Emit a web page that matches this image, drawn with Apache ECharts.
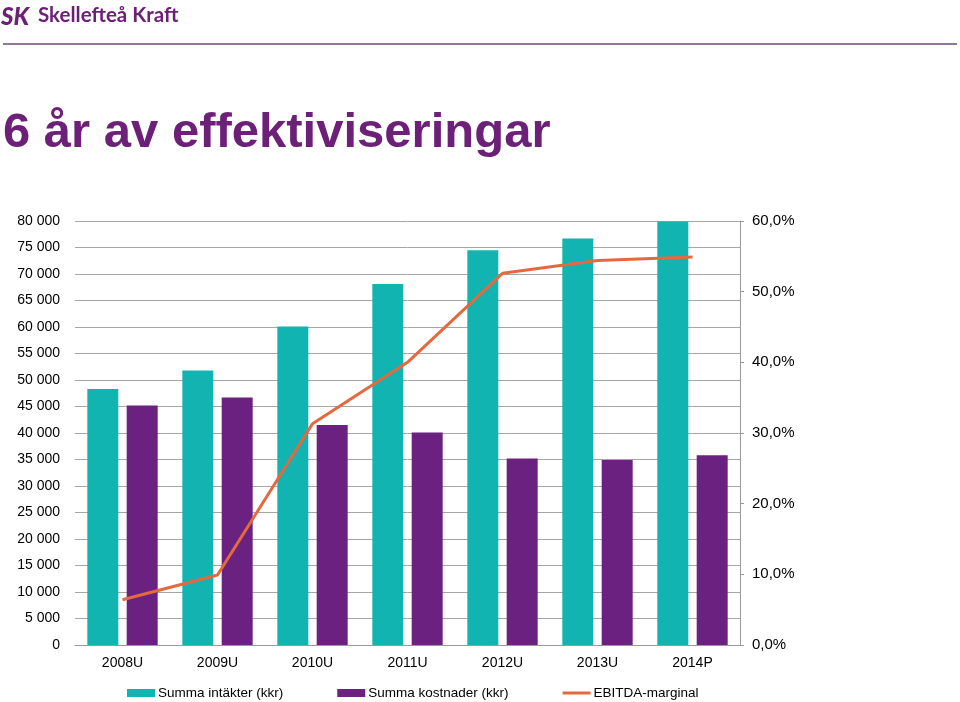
<!DOCTYPE html>
<html><head><meta charset="utf-8">
<script src="https://cdn.jsdelivr.net/npm/echarts@6/dist/echarts.min.js"></script>
<style>html,body{margin:0;padding:0;background:#fff}#c{width:960px;height:702px}</style>
</head><body><div id="c"></div>
<script>
const categories = ['2008U','2009U','2010U','2011U','2012U','2013U','2014P'];
const intakter = [48300, 51800, 60100, 68100, 74500, 76700, 79900];
const kostnader = [45200, 46700, 41500, 40100, 35200, 34900, 35800];
const ebitdaMarginal = [6.4, 9.9, 31.3, 40.0, 52.6, 54.4, 54.9];
const seriesNames = ['Summa intäkter (kkr)', 'Summa kostnader (kkr)', 'EBITDA-marginal'];

const purple = '#6d2077';
const chart = echarts.init(document.getElementById('c'));
const fmtK = v => v === 0 ? '0' : (String(Math.floor(v/1000)) + ' ' + String(v%1000).padStart(3,'0'));
chart.setOption({
  animation: false,
  textStyle: {fontFamily: 'Liberation Sans, Arial, sans-serif'},
  title: {
    text: '6 år av effektiviseringar', left: 3, top: 109, padding: 0,
    textStyle: {fontFamily: 'Liberation Sans, Arial, sans-serif', fontWeight: 'bold', fontSize: 49, color: purple}
  },
  graphic: [
    {type: 'text', left: 1, top: 5, style: {text: 'SK', fontFamily: 'Lato, sans-serif', fontWeight: 900, fontStyle: 'italic', fontSize: 24, fill: purple}},
    {type: 'text', left: 38, top: 5, style: {text: 'Skellefteå Kraft', fontFamily: 'Lato, sans-serif', fontWeight: 'bold', fontSize: 20.5, fill: purple}},
    {type: 'line', shape: {x1: 3, y1: 44, x2: 957, y2: 44}, style: {stroke: '#6a4a72', lineWidth: 1.5}}
  ],
  grid: {left: 75, right: 220, top: 221, bottom: 57, containLabel: false},
  legend: {
    left: 127, top: 686, padding: 0, itemWidth: 28, itemHeight: 8, itemGap: 54,
    textStyle: {fontSize: 13.5, color: '#000', padding: [0,0,0,-2]},
    data: [
      {name: seriesNames[0], icon: 'rect'},
      {name: seriesNames[1], icon: 'rect'},
      {name: seriesNames[2], icon: 'path://M0,0 L28,0 L28,3 L0,3 Z'}
    ]
  },
  xAxis: {
    type: 'category', data: categories,
    axisLine: {lineStyle: {color: '#999'}},
    axisTick: {show: false},
    axisLabel: {color: '#000', fontSize: 14, margin: 11}
  },
  yAxis: [
    {
      type: 'value', min: 0, max: 80000, interval: 5000,
      axisLine: {show: false}, axisTick: {show: false},
      axisLabel: {color: '#000', fontSize: 14, margin: 15, formatter: fmtK},
      splitLine: {lineStyle: {color: '#a6a6a6', width: 1}}
    },
    {
      type: 'value', min: 0, max: 60, interval: 10, position: 'right',
      axisLine: {show: true, lineStyle: {color: '#999'}},
      axisTick: {show: true, length: 4, lineStyle: {color: '#999'}},
      axisLabel: {color: '#000', fontSize: 15, margin: 12, formatter: v => v.toFixed(1).replace('.', ',') + '%'},
      splitLine: {show: false}
    }
  ],
  series: [
    {name: seriesNames[0], type: 'bar', data: intakter, barWidth: 31, barGap: '27%', itemStyle: {color: '#12b4b2'}},
    {name: seriesNames[1], type: 'bar', data: kostnader, barWidth: 31, itemStyle: {color: '#6b2180'}},
    {name: seriesNames[2], type: 'line', yAxisIndex: 1, data: ebitdaMarginal, symbol: 'none',
     lineStyle: {color: '#e5693f', width: 3}, itemStyle: {color: '#e5693f'}}
  ]
});
</script></body></html>
